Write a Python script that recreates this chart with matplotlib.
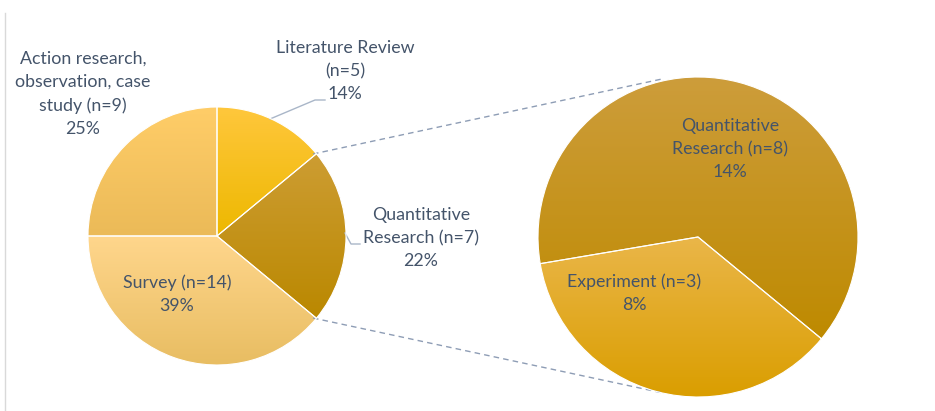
import numpy as np
import matplotlib.pyplot as plt
from matplotlib.colors import LinearSegmentedColormap

# ---- data ----
main_labels = ["Literature Review\n(n=5)\n14%",
               "Quantitative\nResearch (n=7)\n22%",
               "Survey (n=14)\n39%",
               "Action research,\nobservation, case\nstudy (n=9)\n25%"]
main_values = [14, 22, 39, 25]
main_top = ["#FFC73C", "#CD9D33", "#FFD68C", "#FFCD68"]
main_bottom = ["#EDB800", "#BA8800", "#E8BD62", "#EBBA58"]

sub_labels = ["Experiment (n=3)\n8%", "Quantitative\nResearch (n=8)\n14%"]
sub_values = [8, 14]
sub_top = ["#EAB649", "#CD9D3B"]
sub_bottom = ["#DA9E00", "#BE8A00"]

W, H = 935, 411
TXT = "#44546A"
plt.rcParams['font.family'] = ['Lato', 'DejaVu Sans']

fig = plt.figure(figsize=(W / 100, H / 100), dpi=100)
ax = fig.add_axes([0, 0, 1, 1])


def Y(y):
    # pixel row -> data y
    return H - y


def gradient_pie(values, tops, bottoms, center, radius, start, ccw):
    wedges, _ = ax.pie(values, center=center, radius=radius, startangle=start,
                       counterclock=ccw, frame=True,
                       wedgeprops=dict(edgecolor="white", linewidth=0.8))
    for w, c1, c2 in zip(wedges, tops, bottoms):
        ext = w.get_path().get_extents()
        cmap = LinearSegmentedColormap.from_list("g", [c2, c1])
        grad = np.linspace(0, 1, 256).reshape(-1, 1)
        im = ax.imshow(grad, cmap=cmap, origin="lower", aspect="auto",
                       extent=[ext.x0, ext.x1, ext.y0, ext.y1], zorder=2)
        im.set_clip_path(w)
        w.set_facecolor("none")
        w.set_zorder(3)
    return wedges


gradient_pie(main_values, main_top, main_bottom, (217, Y(236)), 129, 90, False)
gradient_pie(sub_values, sub_top, sub_bottom, (698, Y(237)), 160, -39.5, False)
ax.set_xlim(0, W)
ax.set_ylim(0, H)
ax.set_aspect("equal")
ax.axis('off')

# connector lines between the pies
ax.plot([313, 662], [Y(154), Y(79)], ls=(0, (4, 3)), color="#8E9DB5", lw=1)
ax.plot([313, 663], [Y(318), Y(393)], ls=(0, (4, 3)), color="#8E9DB5", lw=1)

# leader lines
ax.plot([270, 315, 325], [Y(119), Y(100), Y(100)], color="#A9B6C8", lw=1)
ax.plot([345, 351, 360], [Y(233), Y(244), Y(244)], color="#A9B6C8", lw=1)

# frame edge on the left
ax.plot([5, 5], [Y(13), 0], color="#D9D9D9", lw=1)

fs = 12.8
kw = dict(ha="center", va="center", color=TXT, fontsize=fs, linespacing=1.55)
ax.text(345, Y(71), main_labels[0], **kw)
ax.text(421, Y(238), main_labels[1], **kw)
ax.text(177, Y(294), main_labels[2], **kw)
ax.text(83, Y(94), main_labels[3], **kw)
ax.text(634, Y(293), sub_labels[0], **kw)
ax.text(730, Y(149), sub_labels[1], **kw)

fig.savefig("out.png", dpi=100)
